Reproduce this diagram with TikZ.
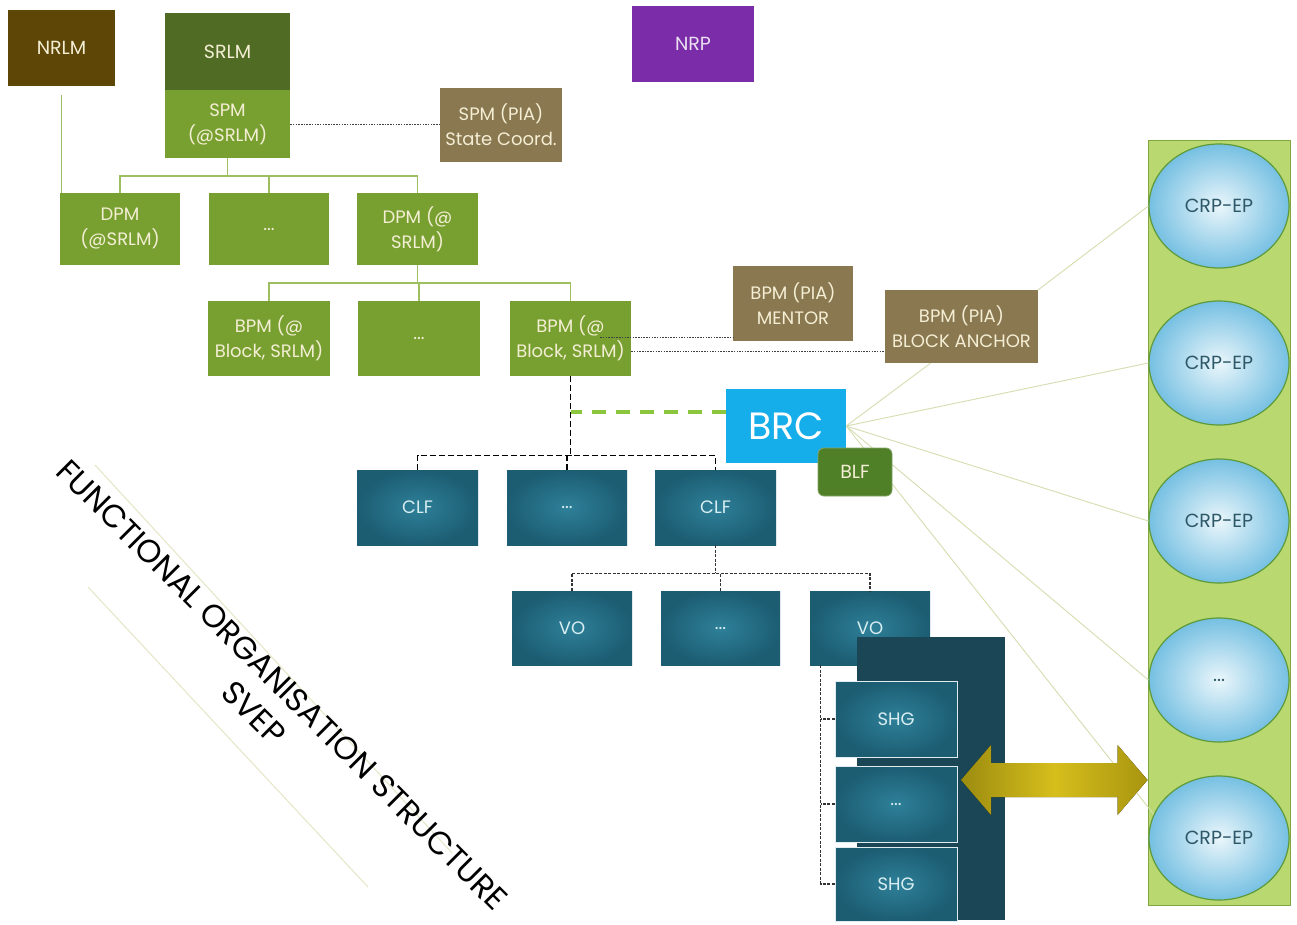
\documentclass[tikz,border=0pt]{standalone}
\usepackage{fontspec}
\setmainfont{Poppins}
\usetikzlibrary{calc,shapes.geometric}
\definecolor{cNRLM}{HTML}{5E4606}
\definecolor{cSRLM}{HTML}{4F6B24}
\definecolor{cGreen}{HTML}{77A030}
\definecolor{cPIA}{HTML}{8A7850}
\definecolor{cNRP}{HTML}{7B2CA8}
\definecolor{cBRC}{HTML}{16AEEA}
\definecolor{cBLF}{HTML}{4F7F27}
\definecolor{cTealIn}{HTML}{2E8099}
\definecolor{cTealOut}{HTML}{1C5D72}
\definecolor{cDark}{HTML}{1B4655}
\definecolor{cPanel}{HTML}{B9D870}
\definecolor{cPanelB}{HTML}{7FA640}
\definecolor{cBallIn}{HTML}{EAF6FB}
\definecolor{cBallOut}{HTML}{76C0E2}
\definecolor{cBallB}{HTML}{5E9A3A}
\definecolor{cBallTxt}{HTML}{2E5868}
\definecolor{cCream}{HTML}{F4EED4}
\definecolor{cTealTxt}{HTML}{D8EEF2}
\definecolor{cTree}{HTML}{9DBF5F}
\definecolor{cPale}{HTML}{D6DDB0}
\definecolor{cGDash}{HTML}{8CC63F}
\definecolor{cGoldL}{HTML}{9C8C10}
\definecolor{cGoldM}{HTML}{D6BE1C}
\definecolor{cGoldR}{HTML}{A8950F}
\definecolor{cFaint}{HTML}{E6E6C6}
\begin{document}
\begin{tikzpicture}[x=1pt,y=-1pt,
  base/.style={inner sep=0pt, align=center, font=\fontsize{18}{25}\selectfont},
  sz/.style 2 args={minimum width=#1, minimum height=#2},
  gbox/.style={base, fill=cGreen, text=cCream},
  pia/.style={base, fill=cPIA, text=cCream},
  teal/.style={base, inner color=cTealIn, outer color=cTealOut, text=cTealTxt},
  ball/.style={ellipse, inner sep=0pt, minimum width=140, minimum height=124, draw=cBallB, line width=1.2pt, inner color=cBallIn, outer color=cBallOut, text=cBallTxt, font=\fontsize{19}{23}\selectfont},
  tree/.style={draw=cTree, line width=1.6pt},
  dotline/.style={draw=black!75, line width=0.9pt, dash pattern=on 1.5pt off 1.2pt},
  bdash/.style={draw=black, line width=1.3pt, dash pattern=on 6pt off 3pt},
  bdashs/.style={draw=black!80, line width=1.1pt, dash pattern=on 3pt off 1.5pt},
  gdash/.style={draw=cGDash, line width=4pt, dash pattern=on 14pt off 10pt},
  pale/.style={draw=cPale, line width=0.9pt},
  faint/.style={draw=cFaint, line width=1pt}]
\useasboundingbox[fill=white] (0,0) rectangle (1297,924);

% top row
\node[base, sz={107}{76}, fill=cNRLM, text=cCream, font=\fontsize{19}{25}\selectfont] (NRLM) at (61.5,48) {NRLM};
\node[base, sz={125}{77}, fill=cSRLM, text=cCream, font=\fontsize{19}{25}\selectfont] (SRLM) at (227.5,51.5) {SRLM};
\node[gbox, sz={125}{68}] (SPM) at (227.5,124) {SPM\\(@SRLM)};
\node[pia, sz={122}{74}] (SPMPIA) at (501,125) {SPM (PIA)\\State Coord.};
\node[base, sz={122}{76}, fill=cNRP, text=cNRP!15, font=\fontsize{19}{25}\selectfont] (NRP) at (693,44) {NRP};

% DPM row
\node[gbox, sz={120}{72}] (DPM1) at (120,229) {DPM\\(@SRLM)};
\node[gbox, sz={120}{72}] (DPM2) at (269,229) {...};
\node[gbox, sz={121}{72}] (DPM3) at (417.5,229) {DPM (@\\SRLM)};

% BPM row
\node[gbox, sz={122}{75}] (BPM1) at (269,338.5) {BPM (@\\Block, SRLM)};
\node[gbox, sz={122}{75}] (BPM2) at (419,338.5) {...};
\node[gbox, sz={121}{75}] (BPM3) at (570.5,338.5) {BPM (@\\Block, SRLM)};
\node[pia, sz={120}{75}] (MENTOR) at (793,303.5) {BPM (PIA)\\MENTOR};
\node[pia, sz={153}{73}] (BA) at (961.5,326.5) {BPM (PIA)\\BLOCK ANCHOR};

% BRC
\node[base, sz={120}{74}, fill=cBRC, text=white, font=\fontsize{38}{42}\selectfont] (BRC) at (786,426) {BRC};

% CLF row
\node[teal, sz={121}{75}] (CLF1) at (417.5,507.5) {CLF};
\node[teal, sz={120}{75}] (CLF2) at (567,507.5) {...};
\node[teal, sz={121}{75}] (CLF3) at (715.5,507.5) {CLF};

% VO row
\node[teal, sz={120}{74}] (VO1) at (572,628) {VO};
\node[teal, sz={119}{74}] (VO2) at (720.5,628) {...};
\node[teal, sz={120}{74}] (VO3) at (870,628) {VO};

% SHG stack
\node[base, sz={148}{283}, fill=cDark] (DARK) at (931,778.5) {};
\node[teal, sz={122}{76}, draw=white!85!cTealIn, line width=1pt] (SHG1) at (896,719) {SHG};
\node[teal, sz={122}{76}, draw=white!85!cTealIn, line width=1pt] (SHG2) at (896,804) {...};
\node[teal, sz={122}{74}, draw=white!85!cTealIn, line width=1pt] (SHG3) at (896,884) {SHG};

% right panel with CRP-EP
\node[base, sz={142}{765}, fill=cPanel, draw=cPanelB, line width=1pt] (PANEL) at (1219,522.5) {};
\node[ball] (C1) at (1219,206) {CRP-EP};
\node[ball] (C2) at (1219,363) {CRP-EP};
\node[ball] (C3) at (1219,521) {CRP-EP};
\node[ball] (C4) at (1219,680) {...};
\node[ball] (C5) at (1219,838) {CRP-EP};

% tree connectors
\draw[tree] ([yshift=-9pt]NRLM.south) -- (NRLM.south |- DPM1.north);
\draw[tree] (SPM.south) -- ++(0,18) coordinate (j1);
\draw[tree] (DPM1.north) |- (j1) -| (DPM3.north);
\draw[tree] (DPM2.north) -- (DPM2.north |- j1);
\draw[tree] (DPM3.south) -- ++(0,18) coordinate (j2);
\draw[tree] (BPM1.north) |- (j2) -| (BPM3.north);
\draw[tree] (BPM2.north) -- (BPM2.north |- j2);

% dotted links
\draw[dotline] (SPM.east) -- (SPM.east -| SPMPIA.west);
\draw[dotline] ([xshift=-31pt,yshift=1.5pt]BPM3.east) coordinate (d1) -- (d1 -| MENTOR.west);
\draw[dotline] ([yshift=-12.5pt]BPM3.east) coordinate (d2) -- (d2 -| BA.west);

% BPM -> CLF
\draw[bdash] (BPM3.south) -- ++(0,79) coordinate (j3);
\draw[bdash] (CLF1.north) |- (j3) -| (CLF3.north);
\draw[bdash] (CLF2.north) -- (CLF2.north |- j3);
\draw[gdash] ([yshift=14pt]BRC.west) coordinate (g1) -- (g1 -| BPM3.south);

% CLF -> VO
\draw[bdashs] (CLF3.south) -- ++(0,28) coordinate (j4);
\draw[bdashs] (VO1.north) |- (j4) -| (VO3.north);
\draw[bdashs] (VO2.north) -- (VO2.north |- j4);

% VO -> SHG
\coordinate (v) at ([xshift=11pt]VO3.south west);
\draw[bdashs] (v) |- (SHG3.west);
\draw[bdashs] (SHG1.west) -- (SHG1.west -| v);
\draw[bdashs] (SHG2.west) -- (SHG2.west -| v);

% pale links
\draw[pale] (BA.north east) -- (C1.west);
\draw[pale] (BRC.east) -- ([xshift=-31pt]BA.south);
\draw[pale] (BRC.east) -- (C2.west);
\draw[pale] (BRC.east) -- (C3.west);
\draw[pale] (BRC.east) -- (C4.west);
\draw[pale] (BRC.east) -- (C5.160);

% BLF
\node[base, sz={74}{48}, fill=cBLF, text=cCream, rounded corners=6pt, draw=cBLF!70!white, line width=0.8pt, font=\fontsize{19}{25}\selectfont] (BLF) at (855,472) {BLF};

% double arrow between SHG stack and CRP-EP panel
\coordinate (al) at (961,780);
\coordinate (ar) at (PANEL.west |- al);
\fill[left color=cGoldL, right color=cGoldR, middle color=cGoldM]
  (al) -- ($(al)+(30,-35)$) -- ($(al)+(30,-17)$) -- ($(ar)+(-30,-17)$) -- ($(ar)+(-30,-35)$)
  -- (ar) -- ($(ar)+(-30,35)$) -- ($(ar)+(-30,17)$) -- ($(al)+(30,17)$) -- ($(al)+(30,35)$) -- cycle;

% title
\coordinate (f1) at (95,465); \coordinate (f2) at (452,853);
\coordinate (f3) at (88,587); \coordinate (f4) at (368,887);
\draw[faint] (f1) -- (f2);
\draw[faint] (f3) -- (f4);
\node[rotate=-45, align=center, font=\fontsize{32}{40}\selectfont, inner sep=0pt] (TITLE) at (268,699)
  {FUNCTIONAL ORGANISATION STRUCTURE\\SVEP};
\end{tikzpicture}
\end{document}
